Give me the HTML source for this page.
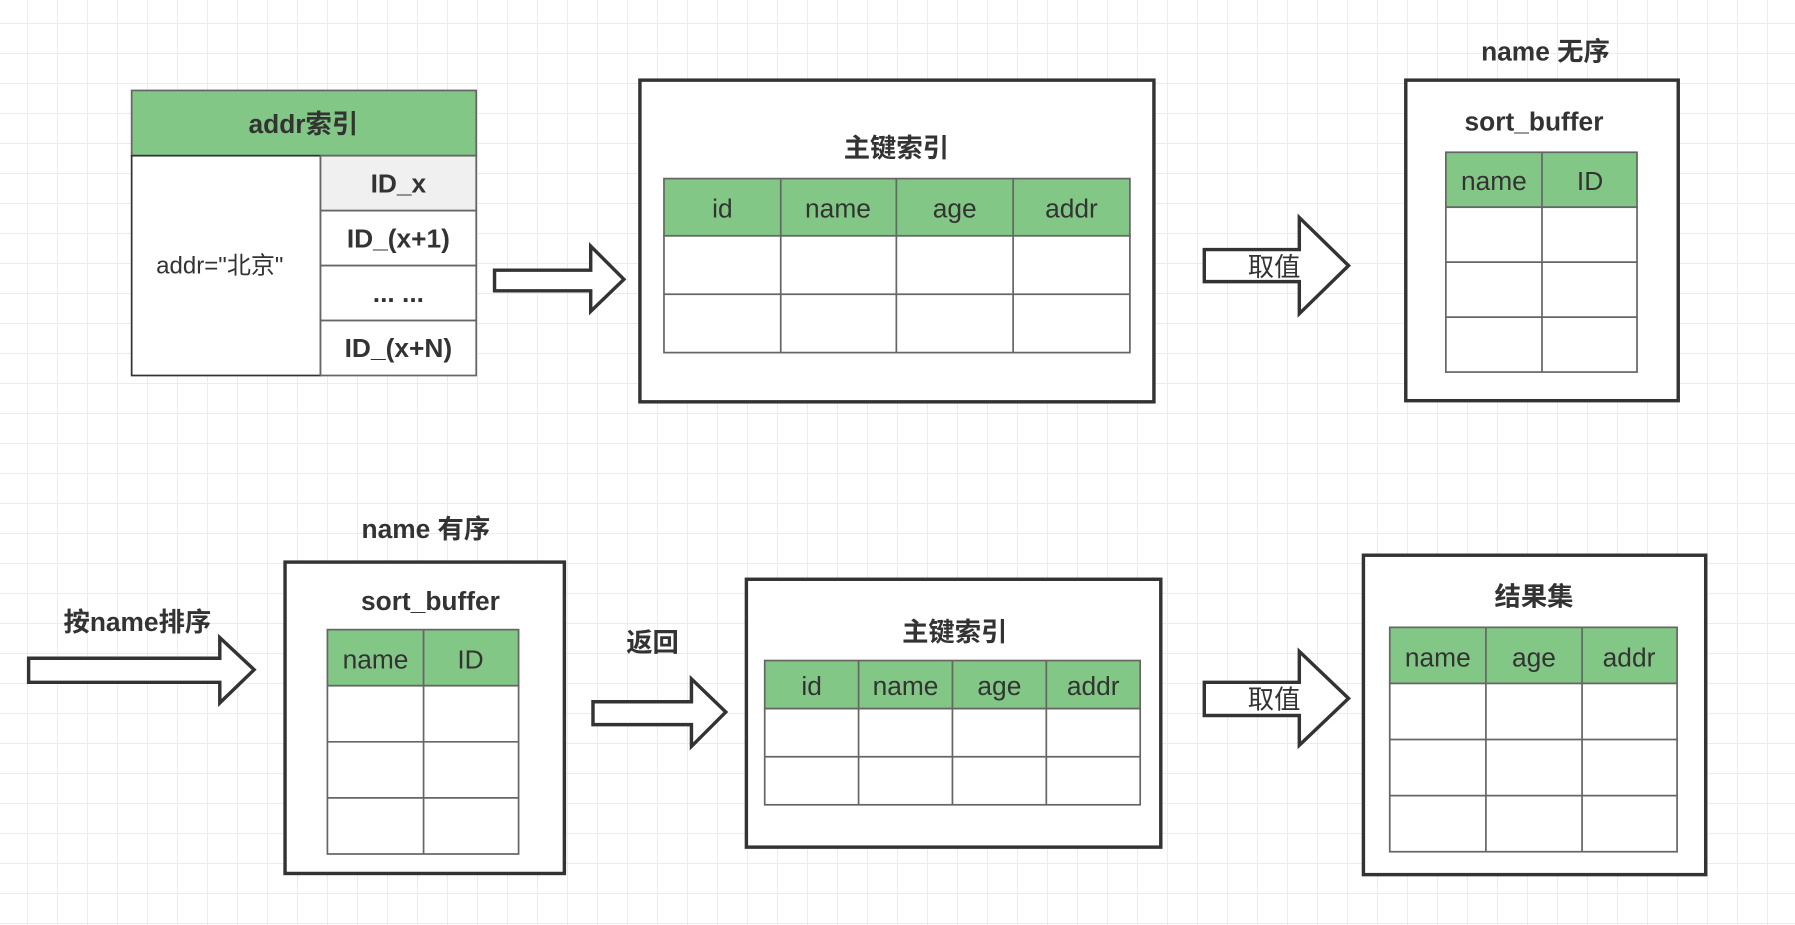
<!DOCTYPE html>
<html><head><meta charset="utf-8"><style>
html,body{margin:0;padding:0;}
body{width:1795px;height:925px;overflow:hidden;background-color:#fff;
background-image:linear-gradient(to right,#ececec 1px,transparent 1px),linear-gradient(to bottom,#ececec 1px,transparent 1px);
background-size:30px 30px;background-position:27px 23px;}
svg{position:absolute;left:0;top:0;}
text{font-family:"Liberation Sans","Noto Sans CJK SC",sans-serif;fill:#333;}
.b{font-weight:bold;font-size:23px;}
.n{font-size:23px;}
.g{fill:#82c785;stroke:#666;stroke-width:1.5;}
.w{fill:#fff;stroke:#666;stroke-width:1.5;}
.bx{fill:#fff;stroke:#333;stroke-width:3;}
.ar{fill:#fff;stroke:#333;stroke-width:3;stroke-linejoin:miter;}
</style></head><body>
<svg width="1795" height="925" viewBox="0 0 1568 808" xmlns="http://www.w3.org/2000/svg">
<rect class="g" x="115" y="79" width="301" height="57"/>
<text class="b" x="265" y="116" text-anchor="middle">addr索引</text>
<rect class="w" x="115" y="136" width="165" height="192" style="stroke:#333"/>
<text class="n" x="192" y="239" text-anchor="middle" style="font-size:21px">addr="北京"</text>
<rect x="280" y="136" width="136" height="48" fill="#f0f0f0" stroke="#666" stroke-width="1.5"/>
<rect class="w" x="280" y="184" width="136" height="48"/>
<rect class="w" x="280" y="232" width="136" height="48"/>
<rect class="w" x="280" y="280" width="136" height="48"/>
<text class="b" x="348" y="168" text-anchor="middle">ID_x</text>
<text class="b" x="348" y="216" text-anchor="middle">ID_(x+1)</text>
<text class="b" x="348" y="264" text-anchor="middle">... ...</text>
<text class="b" x="348" y="312" text-anchor="middle">ID_(x+N)</text>
<polygon class="ar" points="432,236 516,236 516,215 545,244 516,272 516,254 432,254"/>
<rect class="bx" x="559" y="70" width="449" height="281"/>
<text class="b" x="783" y="137" text-anchor="middle">主键索引</text>
<rect class="g" x="580" y="156" width="407" height="50"/>
<rect class="w" x="580" y="206" width="407" height="102"/>
<g stroke="#666" stroke-width="1.5"><line x1="580" y1="257" x2="987" y2="257"/>
<line x1="682" y1="156" x2="682" y2="308"/><line x1="783" y1="156" x2="783" y2="308"/><line x1="885" y1="156" x2="885" y2="308"/></g>
<text class="n" x="631" y="190" text-anchor="middle">id</text>
<text class="n" x="732" y="190" text-anchor="middle">name</text>
<text class="n" x="834" y="190" text-anchor="middle">age</text>
<text class="n" x="936" y="190" text-anchor="middle">addr</text>
<polygon class="ar" points="1052,218 1135,218 1135,190 1178,232 1135,274 1135,246 1052,246"/>
<text class="n" x="1113" y="241" text-anchor="middle">取值</text>
<text class="b" x="1350" y="53" text-anchor="middle">name 无序</text>
<rect class="bx" x="1228" y="70" width="238" height="280"/>
<text class="b" x="1340" y="114" text-anchor="middle">sort_buffer</text>
<rect class="g" x="1263" y="133" width="167" height="48"/>
<rect class="w" x="1263" y="181" width="167" height="144"/>
<g stroke="#666" stroke-width="1.5"><line x1="1263" y1="229" x2="1430" y2="229"/><line x1="1263" y1="277" x2="1430" y2="277"/><line x1="1347" y1="133" x2="1347" y2="325"/></g>
<text class="n" x="1305" y="166" text-anchor="middle">name</text>
<text class="n" x="1389" y="166" text-anchor="middle">ID</text>
<text class="b" x="120" y="551" text-anchor="middle">按name排序</text>
<polygon class="ar" points="25,575 192,575 192,557 222,585 192,614 192,596 25,596"/>
<text class="b" x="372" y="470" text-anchor="middle">name 有序</text>
<rect class="bx" x="249" y="491" width="244" height="272"/>
<text class="b" x="376" y="533" text-anchor="middle">sort_buffer</text>
<rect class="g" x="286" y="550" width="167" height="49"/>
<rect class="w" x="286" y="599" width="167" height="147"/>
<g stroke="#666" stroke-width="1.5"><line x1="286" y1="648" x2="453" y2="648"/><line x1="286" y1="697" x2="453" y2="697"/><line x1="370" y1="550" x2="370" y2="746"/></g>
<text class="n" x="328" y="584" text-anchor="middle">name</text>
<text class="n" x="411" y="584" text-anchor="middle">ID</text>
<text class="b" x="570" y="569" text-anchor="middle">返回</text>
<polygon class="ar" points="518,613 604,613 604,593 634,622 604,652 604,633 518,633"/>
<rect class="bx" x="652" y="506" width="362" height="234"/>
<text class="b" x="834" y="560" text-anchor="middle">主键索引</text>
<rect class="g" x="668" y="577" width="328" height="42"/>
<rect class="w" x="668" y="619" width="328" height="84"/>
<g stroke="#666" stroke-width="1.5"><line x1="668" y1="661" x2="996" y2="661"/>
<line x1="750" y1="577" x2="750" y2="703"/><line x1="832" y1="577" x2="832" y2="703"/><line x1="914" y1="577" x2="914" y2="703"/></g>
<text class="n" x="709" y="607" text-anchor="middle">id</text>
<text class="n" x="791" y="607" text-anchor="middle">name</text>
<text class="n" x="873" y="607" text-anchor="middle">age</text>
<text class="n" x="955" y="607" text-anchor="middle">addr</text>
<polygon class="ar" points="1052,596 1135,596 1135,569 1178,610 1135,651 1135,625 1052,625"/>
<text class="n" x="1113" y="619" text-anchor="middle">取值</text>
<rect class="bx" x="1191" y="485" width="299" height="279"/>
<text class="b" x="1340" y="529" text-anchor="middle">结果集</text>
<rect class="g" x="1214" y="548" width="251" height="49"/>
<rect class="w" x="1214" y="597" width="251" height="147"/>
<g stroke="#666" stroke-width="1.5"><line x1="1214" y1="646" x2="1465" y2="646"/><line x1="1214" y1="695" x2="1465" y2="695"/>
<line x1="1298" y1="548" x2="1298" y2="744"/><line x1="1382" y1="548" x2="1382" y2="744"/></g>
<text class="n" x="1256" y="582" text-anchor="middle">name</text>
<text class="n" x="1340" y="582" text-anchor="middle">age</text>
<text class="n" x="1423" y="582" text-anchor="middle">addr</text>
</svg>
</body></html>
